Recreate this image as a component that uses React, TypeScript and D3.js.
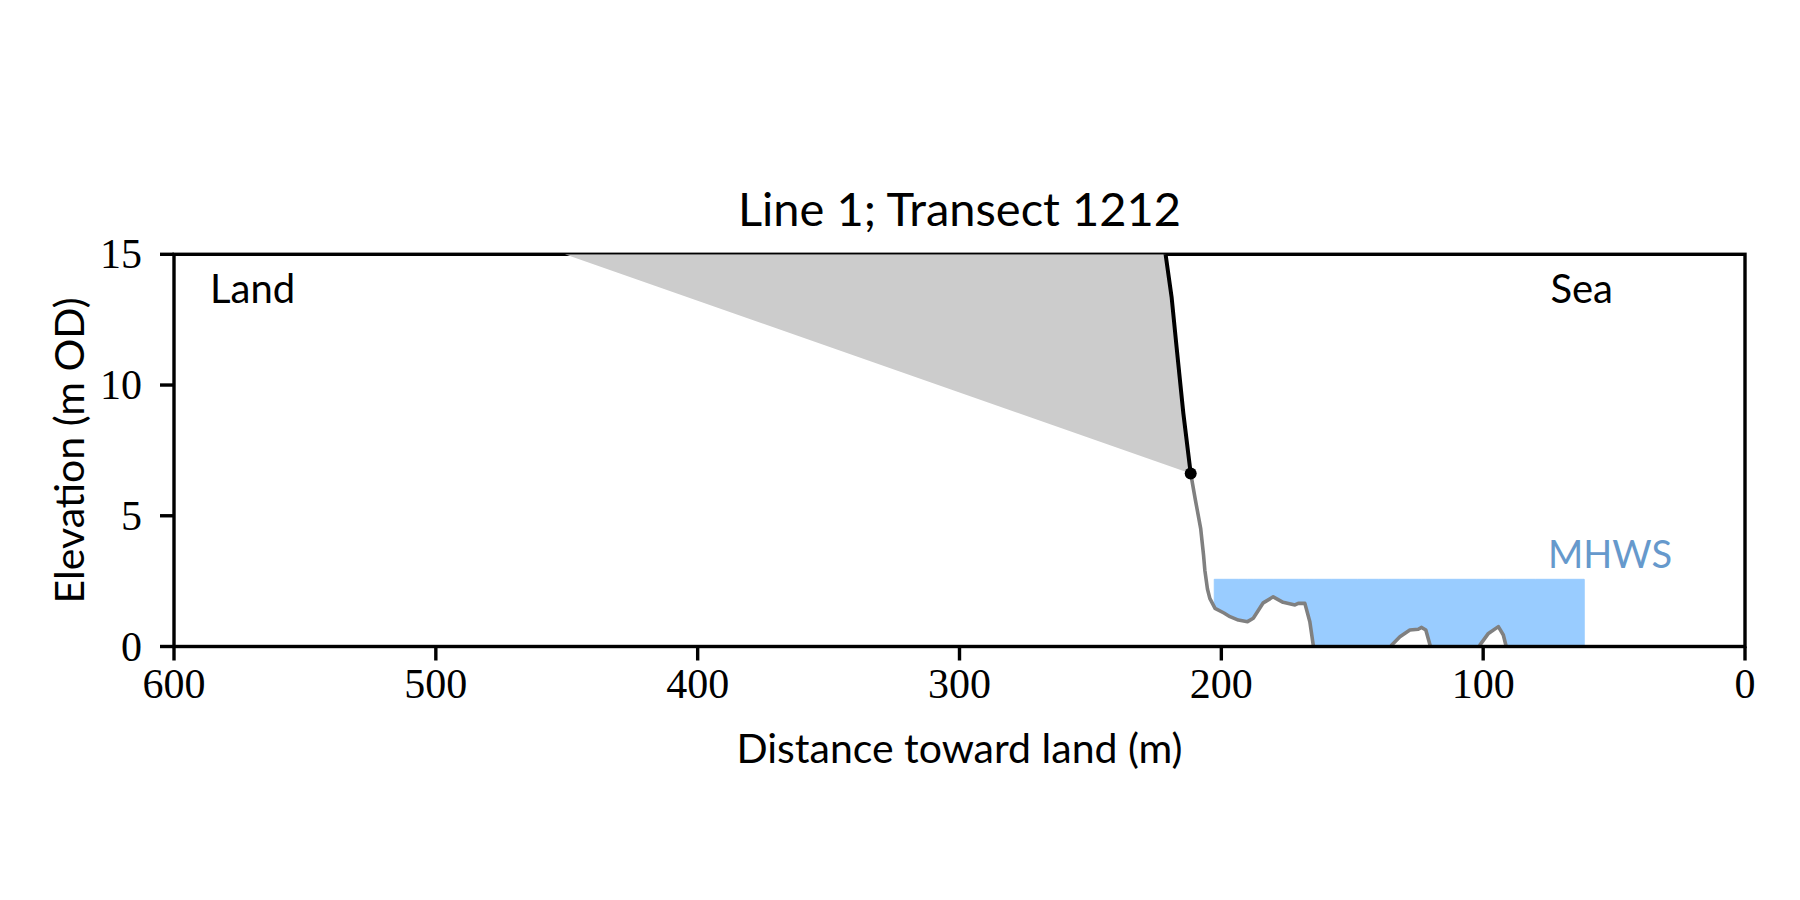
import React from "react";
import * as d3 from "d3";

// ---- data ----
const xTicks = [600, 500, 400, 300, 200, 100, 0];
const yTicks = [0, 5, 10, 15];
const mhwsLevel = 2.57;
const mhwsRange = [202.7, 61.4];

// cliff (black) segment: [distance, elevation]
const cliffDist = [222.0, 221.3, 219.0, 217.1, 214.5, 211.7];
const cliffElev = [15.5, 15.0, 13.37, 11.46, 8.91, 6.62];

// wedge upper-left corner
const wedgeTopDist = 450.7;
const wedgeTopElev = 15;

// seaward profile (grey)
const seaDist = [
  211.7, 209.9, 207.9, 206.8, 206.3, 205.3, 204.4, 202.4, 199.0, 196.7, 193.5,
  190.0, 187.8, 184.0, 180.2, 176.4, 171.9, 170.6, 168.1, 166.2, 164.9, 164.3,
  158.0, 148.0, 140.0, 136.0, 134.9, 131.8, 128.0, 124.8, 123.5, 121.9, 120.3,
  119.5, 110.0, 102.5, 101.2, 98.0, 94.2, 92.3, 91.2, 90.5, 80.0, 70.0, 61.4,
];
const seaElev = [
  6.62, 5.6, 4.52, 3.5, 2.92, 2.2, 1.84, 1.46, 1.28, 1.14, 1.01,
  0.95, 1.08, 1.67, 1.9, 1.69, 1.59, 1.65, 1.65, 0.95, 0.06, -0.25,
  -0.5, -0.6, -0.45, -0.15, 0.06, 0.37, 0.63, 0.66, 0.73, 0.63, 0.06,
  -0.3, -0.6, -0.3, 0.06, 0.5, 0.76, 0.44, 0.0, -0.4, -0.8, -1.0, -1.2,
];

const W = 1800;
const H = 900;
const LEFT = 174;
const RIGHT = 1745;
const TOP = 254.3;
const BOTTOM = 646.5;

const SANS = "Lato, 'Open Sans', sans-serif";
const SERIF = "'Liberation Serif', 'DejaVu Serif', serif";

export default function App() {
  const x = d3.scaleLinear().domain([600, 0]).range([LEFT, RIGHT]);
  const y = d3.scaleLinear().domain([0, 15]).range([BOTTOM, TOP]);

  const cliff: [number, number][] = cliffDist.map((d, i) => [d, cliffElev[i]]);
  const sea: [number, number][] = seaDist.map((d, i) => [d, seaElev[i]]);

  const line = d3
    .line<[number, number]>()
    .x((d) => x(d[0]))
    .y((d) => y(d[1]));

  // wedge polygon
  const cliffBelowTop = cliff.filter((p) => p[1] <= 15);
  const wedge: [number, number][] = [
    [wedgeTopDist, wedgeTopElev],
    ...cliffBelowTop,
  ];
  const wedgePath = line(wedge) + "Z";

  // MHWS fill between profile and level within range
  const interp = (dd: number) => {
    for (let i = 0; i < sea.length - 1; i++) {
      const a = sea[i];
      const b = sea[i + 1];
      if ((a[0] - dd) * (b[0] - dd) <= 0) {
        const t = (dd - a[0]) / (b[0] - a[0]);
        return a[1] + t * (b[1] - a[1]);
      }
    }
    return sea[sea.length - 1][1];
  };
  const [r0, r1] = mhwsRange;
  const fillPts: [number, number][] = [
    [r0, interp(r0)],
    ...sea.filter((p) => p[0] < r0 && p[0] > r1),
    [r1, interp(r1)],
  ];
  const area = d3
    .area<[number, number]>()
    .x((d) => x(d[0]))
    .y0((d) => y(d[1]))
    .y1(() => y(mhwsLevel));
  const mhwsPath = area(fillPts) || "";

  const dot = cliff[cliff.length - 1];

  return (
    <svg
      width={W}
      height={H}
      style={{ position: "absolute", left: 0, top: 0, background: "#fff" }}
    >
      <defs>
        <clipPath id="axclip">
          <rect x={LEFT} y={TOP} width={RIGHT - LEFT} height={BOTTOM - TOP} />
        </clipPath>
      </defs>
      <rect x={0} y={0} width={W} height={H} fill="#fff" />

      <g clipPath="url(#axclip)">
        <path d={mhwsPath} fill="#99ccff" stroke="#99ccff" strokeWidth={1} />
        <path
          d={line(sea) || ""}
          fill="none"
          stroke="#808080"
          strokeWidth={3.6}
          strokeLinejoin="round"
        />
      </g>

      {/* frame */}
      <rect
        x={LEFT}
        y={TOP}
        width={RIGHT - LEFT}
        height={BOTTOM - TOP}
        fill="none"
        stroke="#000"
        strokeWidth={3.4}
      />

      <g clipPath="url(#axclip)">
        <path d={wedgePath} fill="#cccccc" />
        <path
          d={line(cliff) || ""}
          fill="none"
          stroke="#000"
          strokeWidth={4}
          strokeLinejoin="round"
        />
      </g>
      <circle cx={x(dot[0])} cy={y(dot[1])} r={6} fill="#000" />

      {/* x ticks */}
      {xTicks.map((t) => (
        <g key={"xt" + t}>
          <line
            x1={x(t)}
            x2={x(t)}
            y1={BOTTOM}
            y2={BOTTOM + 14}
            stroke="#000"
            strokeWidth={3.4}
          />
          <text
            x={x(t)}
            y={698}
            textAnchor="middle"
            fontFamily={SERIF}
            fontSize={42}
            fill="#000"
          >
            {t}
          </text>
        </g>
      ))}
      {/* y ticks */}
      {yTicks.map((t) => (
        <g key={"yt" + t}>
          <line
            x1={LEFT - 14}
            x2={LEFT}
            y1={y(t)}
            y2={y(t)}
            stroke="#000"
            strokeWidth={3.4}
          />
          <text
            x={142}
            y={y(t) + 14}
            textAnchor="end"
            fontFamily={SERIF}
            fontSize={42}
            fill="#000"
          >
            {t}
          </text>
        </g>
      ))}

      <text
        x={(LEFT + RIGHT) / 2}
        y={226}
        textAnchor="middle"
        fontFamily={SANS}
        fontSize={47}
        fill="#000"
      >
        Line 1; Transect 1212
      </text>
      <text
        x={(LEFT + RIGHT) / 2}
        y={763}
        textAnchor="middle"
        fontFamily={SANS}
        fontSize={41}
        fill="#000"
      >
        Distance toward land (m)
      </text>
      <text
        transform={`translate(84, ${(TOP + BOTTOM) / 2}) rotate(-90)`}
        textAnchor="middle"
        fontFamily={SANS}
        fontSize={41}
        fill="#000"
      >
        Elevation (m OD)
      </text>
      <text x={210} y={302.7} fontFamily={SANS} fontSize={40} fill="#000">
        Land
      </text>
      <text
        x={1613}
        y={302.7}
        textAnchor="end"
        fontFamily={SANS}
        fontSize={40}
        fill="#000"
      >
        Sea
      </text>
      <text x={1548} y={567.7} fontFamily={SANS} fontSize={38} fill="#6699cc">
        MHWS
      </text>
    </svg>
  );
}
